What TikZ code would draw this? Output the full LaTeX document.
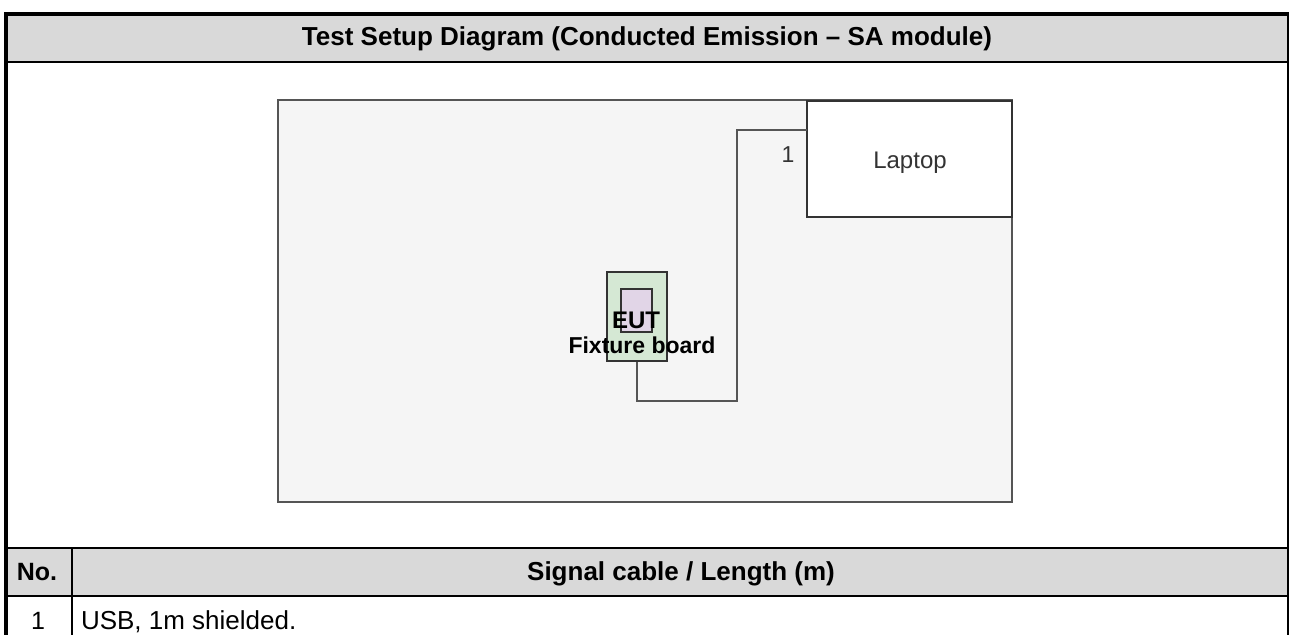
\documentclass[tikz,border=0pt]{standalone}
\usepackage{fontspec}
\setmainfont{Liberation Sans}
\definecolor{hdrgray}{HTML}{D9D9D9}
\definecolor{benchfill}{HTML}{F5F5F5}
\definecolor{benchline}{HTML}{555555}
\definecolor{fixfill}{HTML}{D5E8D4}
\definecolor{eutfill}{HTML}{E1D5E7}
\definecolor{txtdark}{HTML}{333333}
\tikzset{
  box/.style={draw=benchline, line width=2pt, rectangle, inner sep=0pt, outer sep=0pt},
  cable/.style={draw=benchline, line width=2pt},
  frameline/.style={draw=black, line width=2pt},
  lbl/.style={inner sep=0pt, outer sep=0pt, anchor=base},
}
\begin{document}
\begin{tikzpicture}[x=1pt,y=-1pt]
\useasboundingbox (0,0) rectangle (1290,635);
% header bands
\fill[hdrgray] (6,15) rectangle (1288,62);
\fill[hdrgray] (6,548) rectangle (1288,596);
% frame
\draw[frameline] (6,62) -- (1288,62);
\draw[frameline] (6,548) -- (1288,548);
\draw[frameline] (6,596) -- (1288,596);
\draw[frameline, line width=1.5pt] (72,548) -- (72,635);
\draw[frameline] (1288.3,12) -- (1288.3,635);
\draw[frameline, line width=4pt] (6,12) -- (6,635);
\draw[frameline, line width=4pt] (4,13.7) -- (1289.3,13.7);
% texts of the table
\node[lbl, font=\fontsize{26}{30}\selectfont\bfseries] (title) at (647,45) {Test Setup Diagram (Conducted Emission – SA module)};
\node[lbl, font=\fontsize{25}{30}\selectfont\bfseries] (nohdr) at (37,580) {No.};
\node[lbl, font=\fontsize{26}{30}\selectfont\bfseries] (sighdr) at (681,580) {Signal cable / Length (m)};
\node[lbl, font=\fontsize{25}{30}\selectfont] (no1) at (38,629) {1};
\node[lbl, font=\fontsize{26}{30}\selectfont, anchor=base west] (usb) at (81,629) {USB, 1m shielded.};
% bench
\node[box, fill=benchfill, minimum width=734pt, minimum height=402pt] (bench) at (645,301) {};
% laptop
\node[box, draw=txtdark, fill=white, minimum width=205pt, minimum height=116pt] (laptop) at (909.5,159) {};
\node[lbl, font=\fontsize{24}{28}\selectfont, text=txtdark] (laptoptxt) at (910,168) {Laptop};
% cable
\draw[cable] ([yshift=-29pt]laptop.north west) -| (737,401) -| (637,361);
% fixture board and EUT
\node[box, draw=txtdark, fill=fixfill, minimum width=60pt, minimum height=89pt] (fixture) at (637,316.5) {};
\node[box, draw=txtdark, fill=eutfill, minimum width=31pt, minimum height=43pt] (eut) at (636.5,310.5) {};
\node[lbl, font=\fontsize{24}{28}\selectfont\bfseries] (euttxt) at (636,328) {EUT};
\node[lbl, font=\fontsize{23}{28}\selectfont\bfseries] (fixtxt) at (642,353) {Fixture board};
\node[lbl, font=\fontsize{23}{28}\selectfont, text=txtdark] (cab1) at (788,162) {1};
\end{tikzpicture}
\end{document}
